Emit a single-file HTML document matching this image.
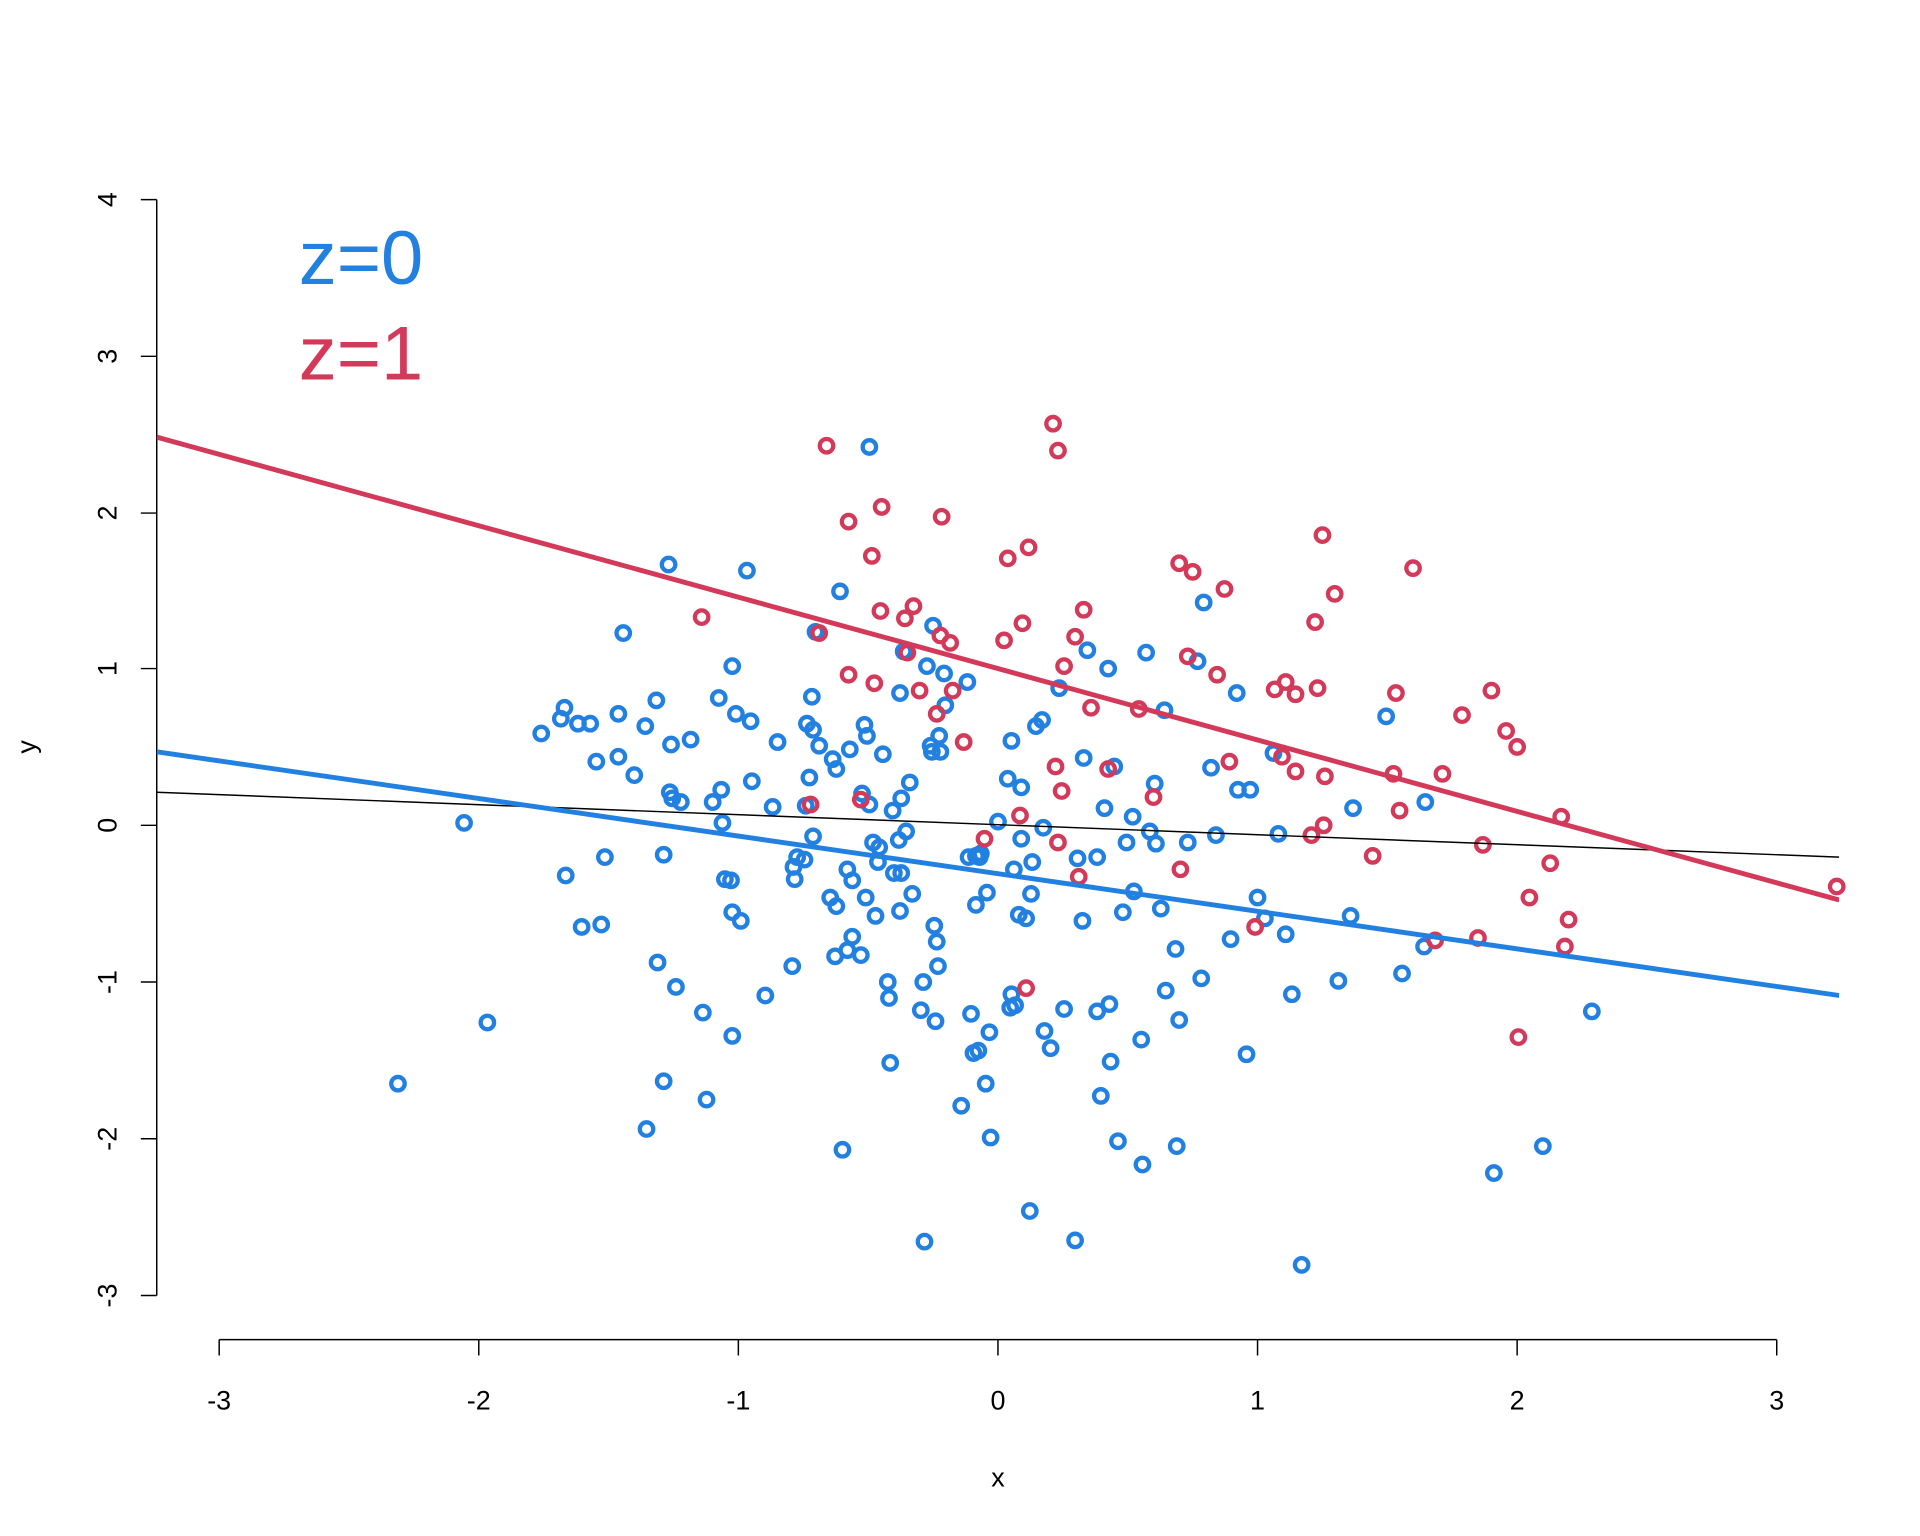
<!DOCTYPE html>
<html><head><meta charset="utf-8"><style>html,body{margin:0;padding:0;background:#fff}svg{display:block}</style></head>
<body>
<svg id="s" width="1920" height="1536" viewBox="0 0 1568 1254.4" preserveAspectRatio="none" xmlns="http://www.w3.org/2000/svg" font-family="Liberation Sans, Arial, sans-serif">
<defs><clipPath id="c"><rect x="128" y="100" width="1374" height="994"/></clipPath></defs>
<rect width="1568" height="1255" fill="#fff"/>
<g stroke="#000" stroke-width="1.2" fill="none">
<path d="M128 163V1058M115 163H128M115 291H128M115 419H128M115 546H128M115 674H128M115 802H128M115 930H128M115 1058H128"/>
<path d="M179 1094H1451M179 1094v13M391 1094v13M603 1094v13M815 1094v13M1027 1094v13M1239 1094v13M1451 1094v13"/>
</g>
<g font-size="22" text-anchor="middle" fill="#000">
<text transform="translate(95,163) rotate(-90)">4</text>
<text transform="translate(95,291) rotate(-90)">3</text>
<text transform="translate(95,419) rotate(-90)">2</text>
<text transform="translate(95,546) rotate(-90)">1</text>
<text transform="translate(95,674) rotate(-90)">0</text>
<text transform="translate(95,802) rotate(-90)">-1</text>
<text transform="translate(95,930) rotate(-90)">-2</text>
<text transform="translate(95,1058) rotate(-90)">-3</text>
<text x="179" y="1151">-3</text><text x="391" y="1151">-2</text><text x="603" y="1151">-1</text><text x="815" y="1151">0</text><text x="1027" y="1151">1</text><text x="1239" y="1151">2</text><text x="1451" y="1151">3</text>
<text x="815" y="1214">x</text>
<text transform="translate(29,610) rotate(-90)">y</text>
</g>
<text x="244" y="232" font-size="62" fill="#2180e0">z=0</text>
<text x="244" y="310" font-size="62" fill="#d33a5a">z=1</text>
<g id="pts" fill="none" stroke-width="3.5"></g>
<g clip-path="url(#c)">
<line x1="128" y1="647" x2="1502" y2="700" stroke="#000" stroke-width="1.2"/>
<line x1="128" y1="614" x2="1502" y2="813" stroke="#2180e0" stroke-width="4"/>
<line x1="128" y1="357" x2="1502" y2="735" stroke="#d33a5a" stroke-width="4"/>
</g>
</svg>
<script>
var B=[[325,885],[379,672],[398,835],[442,599],[461,578],[458,587],[462,715],[475,757],[472,591],[482,591],[487,622],[491,755],[494,700],[505,583],[505,618],[509,517],[518,633],[527,593],[528,922],[536,572],[537,786],[542,883],[542,698],[546,461],[547,647],[548,608],[549,652],[552,806],[556,655],[564,604],[574,827],[577,898],[582,655],[587,570],[589,645],[590,672],[592,718],[597,719],[598,544],[598,745],[598,846],[601,583],[605,752],[610,466],[613,589],[614,638],[625,813],[631,659],[635,606],[647,789],[648,708],[649,718],[651,700],[657,702],[658,658],[659,591],[661,635],[663,569],[664,683],[664,596],[666,516],[669,609],[678,733],[680,620],[683,628],[683,740],[682,781],[686,483],[688,939],[692,710],[692,776],[694,612],[696,719],[696,765],[703,780],[704,648],[706,592],[707,733],[708,601],[710,657],[710,365],[713,688],[715,748],[717,704],[718,692],[721,616],[725,802],[726,815],[727,868],[729,662],[730,713],[734,686],[735,566],[735,744],[736,652],[736,713],[738,532],[740,679],[743,639],[745,730],[752,825],[754,802],[755,1014],[757,544],[760,609],[761,614],[762,511],[763,756],[764,834],[765,769],[766,789],[767,601],[768,614],[771,550],[772,576],[785,903],[790,557],[791,700],[793,828],[795,860],[797,739],[797,699],[799,858],[800,700],[801,697],[805,885],[806,729],[808,843],[809,929],[815,671],[823,636],[825,823],[826,605],[826,812],[828,710],[829,821],[832,747],[834,643],[834,685],[838,750],[841,989],[842,730],[843,704],[846,593],[851,588],[852,676],[853,842],[858,856],[865,562],[869,824],[878,1013],[880,701],[884,752],[885,619],[888,531],[896,700],[896,826],[899,895],[902,660],[905,546],[906,820],[907,867],[910,626],[913,932],[917,745],[920,688],[925,667],[926,728],[932,849],[933,951],[936,533],[939,679],[943,640],[944,689],[948,742],[951,580],[952,809],[960,775],[961,936],[963,833],[970,688],[978,540],[981,799],[983,492],[989,627],[993,682],[1005,767],[1010,566],[1011,645],[1018,861],[1021,645],[1027,733],[1033,750],[1040,615],[1044,681],[1050,763],[1055,812],[1063,1033],[1093,801],[1103,748],[1105,660],[1132,585],[1145,795],[1163,773],[1164,655],[1220,958],[1260,936],[1300,826]];
var R=[[573,504],[662,657],[669,517],[675,364],[693,426],[693,551],[703,653],[712,454],[714,558],[719,499],[720,414],[739,505],[741,533],[746,495],[751,564],[765,583],[768,519],[769,422],[776,525],[778,564],[787,606],[804,685],[820,523],[823,456],[833,666],[835,509],[838,807],[840,447],[860,346],[862,626],[864,688],[864,368],[867,646],[869,544],[878,520],[881,716],[885,498],[891,578],[905,628],[930,579],[942,651],[963,460],[964,710],[970,536],[974,467],[994,551],[1000,481],[1004,622],[1025,757],[1041,563],[1047,618],[1050,557],[1058,630],[1058,567],[1071,682],[1074,508],[1076,562],[1080,437],[1081,674],[1082,634],[1090,485],[1121,699],[1138,632],[1140,566],[1143,662],[1154,464],[1172,768],[1178,632],[1194,584],[1207,766],[1211,690],[1218,564],[1230,597],[1239,610],[1240,847],[1249,733],[1266,705],[1275,667],[1278,773],[1281,751],[1500,724]];
var g=document.getElementById('pts'),h='';
B.forEach(function(p){h+='<circle cx="'+p[0]+'" cy="'+p[1]+'" r="5.5" stroke="#2180e0"/>';});
R.forEach(function(p){h+='<circle cx="'+p[0]+'" cy="'+p[1]+'" r="5.5" stroke="#d33a5a"/>';});
g.innerHTML=h;
</script>
</body></html>
